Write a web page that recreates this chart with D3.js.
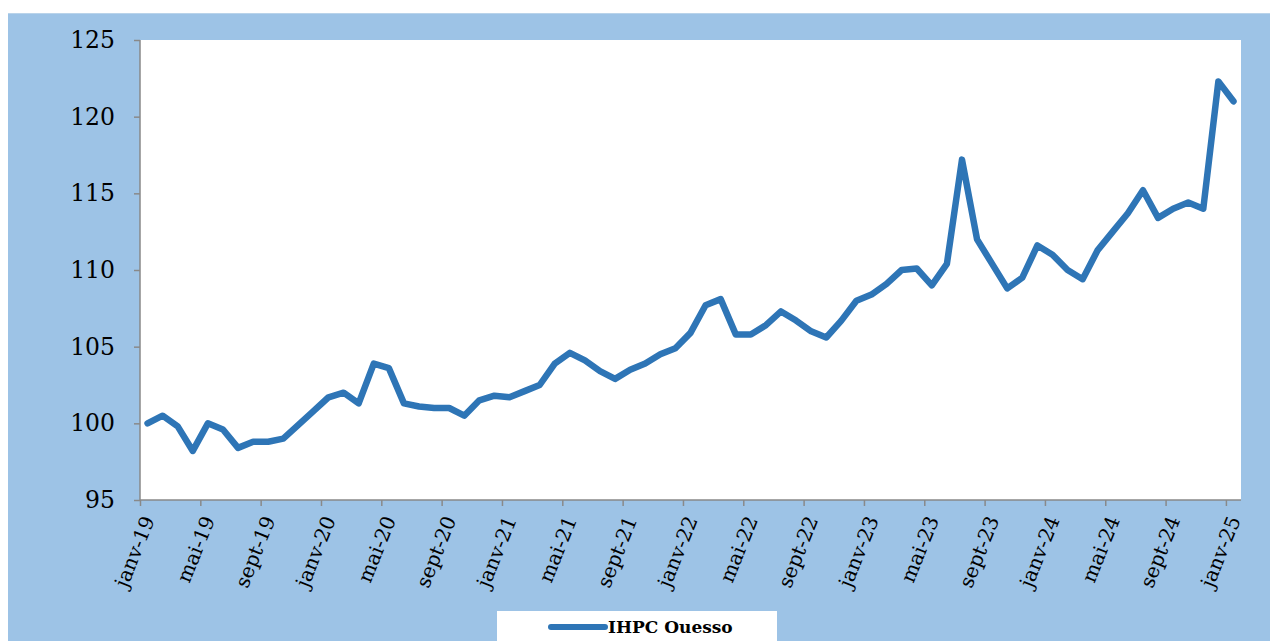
<!DOCTYPE html>
<html>
<head>
<meta charset="utf-8">
<script src="https://cdn.jsdelivr.net/npm/d3@7"></script>
<style>
  body { margin: 0; background: #fff; }
  .axis path, .axis line { stroke: #898989; stroke-width: 1.5; }
  .ylab { font-family: "DejaVu Serif", serif; font-size: 23.5px; fill: #000; }
  .xlab { font-family: "DejaVu Serif", serif; font-size: 20px; fill: #000; }
  .legendText { font-family: "DejaVu Serif", serif; font-size: 17px; font-weight: bold; }
</style>
</head>
<body>
<div id="chart"></div>
<script>
//*********************** DATA ***********************
var seriesName = "IHPC Ouesso";

// monthly values, janv-19 .. janv-25
var ihpcValues = [
  100.0, 100.5, 99.8, 98.2, 100.0, 99.6, 98.4, 98.8, 98.8, 99.0, 99.9, 100.8,
  101.7, 102.0, 101.3, 103.9, 103.6, 101.3, 101.1, 101.0, 101.0, 100.5, 101.5, 101.8,
  101.7, 102.1, 102.5, 103.9, 104.6, 104.1, 103.4, 102.9, 103.5, 103.9, 104.5, 104.9,
  105.9, 107.7, 108.1, 105.8, 105.8, 106.4, 107.3, 106.7, 106.0, 105.6, 106.7, 108.0,
  108.4, 109.1, 110.0, 110.1, 109.0, 110.4, 117.2, 112.0, 110.4, 108.8, 109.5, 111.6,
  111.0, 110.0, 109.4, 111.3, 112.5, 113.7, 115.2, 113.4, 114.0, 114.4, 114.0, 122.3,
  121.0
];

var xTickLabels = [
  "janv-19", "mai-19", "sept-19", "janv-20", "mai-20", "sept-20", "janv-21",
  "mai-21", "sept-21", "janv-22", "mai-22", "sept-22", "janv-23", "mai-23",
  "sept-23", "janv-24", "mai-24", "sept-24", "janv-25"
];

var yTicks = [95, 100, 105, 110, 115, 120, 125];

//*********************** LAYOUT ***********************
var width = 1270,
    height = 641,
    plot = {left: 140, right: 1241, top: 40, bottom: 500};

var svg = d3.select("#chart").append("svg")
  .attr("width", width)
  .attr("height", height);

// blue frame
svg.append("rect")
  .attr("x", 8).attr("y", 13)
  .attr("width", width - 8).attr("height", height - 13)
  .attr("fill", "#9DC3E6");
svg.append("line")
  .attr("x1", 8).attr("x2", width).attr("y1", 13.5).attr("y2", 13.5)
  .attr("stroke", "#b9d3ea").attr("stroke-width", 1);

// plot area
svg.append("rect")
  .attr("x", plot.left).attr("y", plot.top)
  .attr("width", plot.right - plot.left).attr("height", plot.bottom - plot.top)
  .attr("fill", "#fff");

var xScale = d3.scaleLinear().domain([0, ihpcValues.length]).range([plot.left, plot.right]),
    yScale = d3.scaleLinear().domain([95, 125]).range([plot.bottom, plot.top]);

//*********************** AXES ***********************
var yAxis = d3.axisLeft(yScale).tickValues(yTicks).tickSize(6).tickPadding(19);
var gy = svg.append("g")
  .attr("class", "axis")
  .attr("transform", "translate(" + plot.left + ",0)")
  .call(yAxis);
gy.select(".domain").attr("d", "M0," + plot.top + "V" + plot.bottom);
gy.selectAll("text").attr("class", "ylab").attr("font-family", null).attr("font-size", null);

var xTickVals = xTickLabels.map(function(d, i) { return i * 4; });
var xAxis = d3.axisBottom(xScale)
  .tickValues(xTickVals)
  .tickSize(6)
  .tickFormat(function(d, i) { return xTickLabels[i]; });
var gx = svg.append("g")
  .attr("class", "axis")
  .attr("transform", "translate(0," + plot.bottom + ")")
  .call(xAxis);
gx.select(".domain").attr("d", "M" + plot.left + ",0H" + plot.right);
gx.selectAll("text")
  .attr("class", "xlab")
  .attr("font-family", null).attr("font-size", null)
  .attr("text-anchor", "end")
  .attr("x", 0).attr("y", 0).attr("dy", "0.35em")
  .attr("transform", "translate(8,17) rotate(-68)");

//*********************** LINE ***********************
var line = d3.line()
  .x(function(d, i) { return xScale(i + 0.5); })
  .y(function(d) { return yScale(d); });

svg.append("path").datum(ihpcValues)
  .attr("d", line)
  .attr("fill", "none")
  .attr("stroke", "#2E75B6")
  .attr("stroke-width", 6.5)
  .attr("stroke-linejoin", "round")
  .attr("stroke-linecap", "round");

//*********************** LEGEND ***********************
var legend = svg.append("g").attr("class", "legend");
legend.append("rect")
  .attr("x", 497).attr("y", 611)
  .attr("width", 280).attr("height", 40)
  .attr("fill", "#fff");
legend.append("line")
  .attr("x1", 551).attr("x2", 605).attr("y1", 627).attr("y2", 627)
  .attr("stroke", "#2E75B6").attr("stroke-width", 6)
  .attr("stroke-linecap", "round");
legend.append("text")
  .attr("class", "legendText")
  .attr("x", 608).attr("y", 633)
  .text(seriesName);
</script>
</body>
</html>
